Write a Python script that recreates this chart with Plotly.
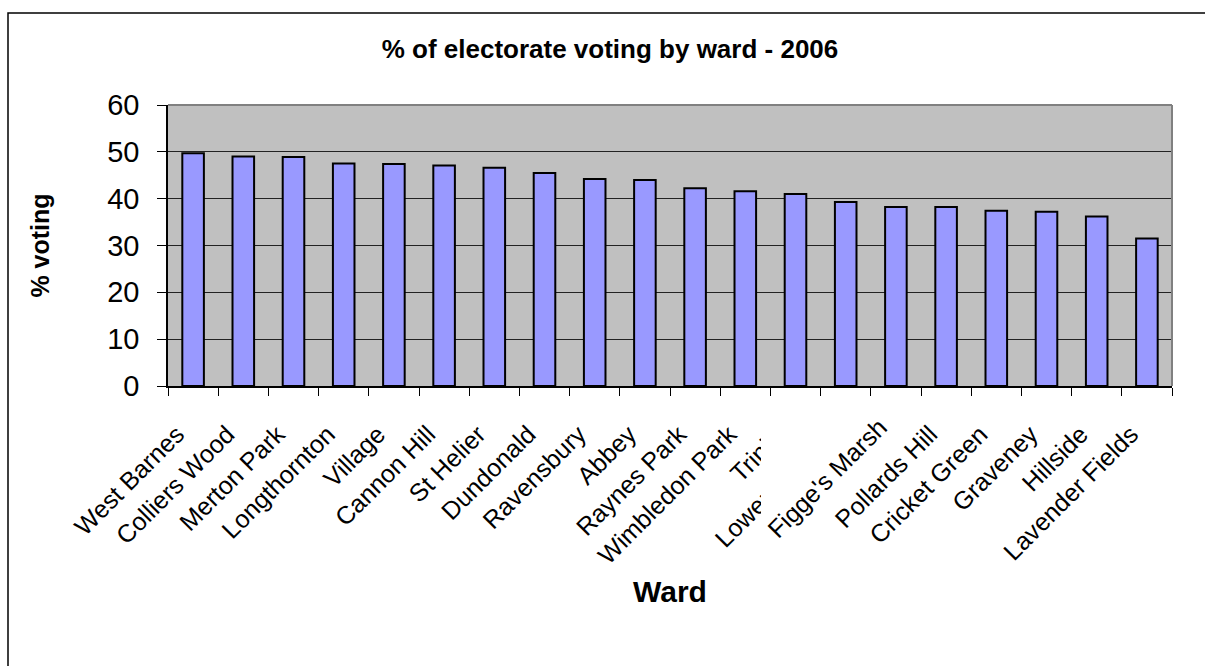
import plotly.graph_objects as go

wards = ["West Barnes", "Colliers Wood", "Merton Park", "Longthornton", "Village",
         "Cannon Hill", "St Helier", "Dundonald", "Ravensbury", "Abbey",
         "Raynes Park", "Wimbledon Park", "Trinity", "Lower Morden", "Figge's Marsh",
         "Pollards Hill", "Cricket Green", "Graveney", "Hillside", "Lavender Fields"]
pct_voting = [49.7, 49.0, 48.9, 47.5, 47.4, 47.1, 46.6, 45.5, 44.2, 44.0,
              42.2, 41.6, 41.0, 39.3, 38.2, 38.2, 37.4, 37.2, 36.2, 31.5]
y_ticks = [0, 10, 20, 30, 40, 50, 60]

# label drawn on top of the white patch (as in the original picture)
overlay_label = "Figge's Marsh"
tick_text = ["" if w == overlay_label else w for w in wards]

FONT = "Liberation Sans, Arial, sans-serif"

fig = go.Figure(go.Bar(
    x=wards, y=pct_voting,
    marker=dict(color="#9999FF", line=dict(color="#000000", width=2)),
    width=0.43,
))

# pixel -> paper helpers for decorations
L, R, T, B = 168, 1172, 105, 386
def px(x):
    return (x - L) / (R - L)
def py(y):
    return (B - y) / (B - T)

shapes = [
    # chart area frame
    dict(type="rect", xref="paper", yref="paper", x0=px(8), x1=px(1260), y0=py(720), y1=py(13),
         line=dict(color="#000000", width=1.5), layer="above"),
    # plot area top / right border (grey)
    dict(type="line", xref="paper", yref="paper", x0=0, x1=1, y0=1, y1=1,
         line=dict(color="#808080", width=2), layer="above"),
    dict(type="line", xref="paper", yref="paper", x0=1, x1=1, y0=0, y1=1,
         line=dict(color="#808080", width=2), layer="above"),
    # white patch hiding the overlapped labels (as in the original image)
    dict(type="path", xref="paper", yref="paper",
         path=f"M {px(761)},{py(396)} L {px(761)},{py(559)} L {px(924)},{py(396)} Z",
         fillcolor="#FFFFFF", line=dict(width=0), layer="above"),
]

fig.add_annotation(
    text=overlay_label, xref="paper", yref="paper", x=px(827), y=py(478),
    xanchor="center", yanchor="middle", textangle=-45, showarrow=False,
    font=dict(size=25, family=FONT, color="#000000"),
)

fig.update_layout(
    width=1205, height=666,
    margin=dict(l=L, r=1205 - R, t=T, b=666 - B),
    paper_bgcolor="#FFFFFF", plot_bgcolor="#C0C0C0",
    font=dict(family=FONT, color="#000000"),
    title=dict(text="<b>% of electorate voting by ward - 2006</b>", x=610 / 1205, xanchor="center",
               y=1 - 49 / 666, yanchor="middle", font=dict(size=26, family=FONT)),
    showlegend=False,
    bargap=0.57,
    shapes=shapes,
    xaxis=dict(
        type="category", tickvals=wards, ticktext=tick_text,
        tickangle=-45, tickfont=dict(size=25, family=FONT),
        showline=True, linecolor="#000000", linewidth=1.5,
        ticks="outside", ticklen=8, tickcolor="#000000", tickson="boundaries",
        ticklabelstandoff=22, ticklabelshift=-16,
        showgrid=False,
        title=dict(text="<b>Ward</b>", font=dict(size=30, family=FONT), standoff=13),
    ),
    yaxis=dict(
        range=[0, 60], tickvals=y_ticks, tickfont=dict(size=29, family=FONT),
        showline=True, linecolor="#000000", linewidth=1.5,
        ticks="outside", ticklen=9, tickcolor="#000000", ticklabelstandoff=12,
        showgrid=True, gridcolor="#222222", gridwidth=1, zeroline=False,
        title=dict(text="<b>% voting</b>", font=dict(size=25, family=FONT), standoff=50),
    ),
)

fig.write_html("out.html")
